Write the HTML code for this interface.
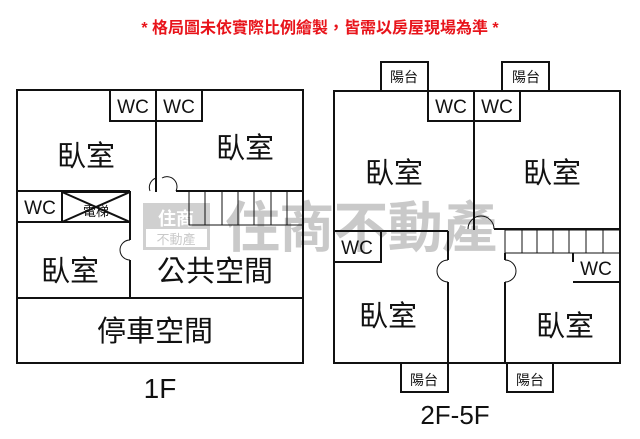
<!DOCTYPE html>
<html><head><meta charset="utf-8"><style>
body{margin:0;background:#fff;}
svg{display:block}
text{font-family:"Liberation Sans","Noto Sans CJK TC",sans-serif;}
</style></head><body>
<svg width="640" height="439" viewBox="0 0 640 439" xmlns="http://www.w3.org/2000/svg">
<rect width="640" height="439" fill="#fff"/>
<text x="320" y="33" font-size="16" fill="#e8141b" text-anchor="middle" font-weight="bold">* 格局圖未依實際比例繪製，皆需以房屋現場為準 *</text>

<g opacity="0.45">
<rect x="143" y="203" width="67" height="47" fill="#999"/>
<text x="176" y="225" font-size="18" fill="#fff" text-anchor="middle" font-weight="bold">住商</text>
<rect x="146" y="229" width="61" height="18" fill="#fff"/>
<text x="176" y="244" font-size="13" fill="#888" text-anchor="middle">不動產</text>
<text x="225" y="247" font-size="55" fill="#888" font-weight="bold" textLength="272">住商不動產</text>
</g>

<g stroke="#111" stroke-width="2" fill="none">
<rect x="17" y="90" width="286" height="273"/>
<rect x="110" y="90" width="46" height="31"/>
<rect x="156" y="90" width="46" height="31"/>
<line x1="156" y1="90" x2="156" y2="192"/>
<line x1="17" y1="191" x2="130" y2="191"/>
<line x1="176" y1="191" x2="303" y2="191"/>
<rect x="17" y="191" width="45" height="31"/>
<rect x="62" y="192" width="68" height="30"/>
<line x1="62" y1="192" x2="130" y2="222"/>
<line x1="62" y1="222" x2="130" y2="192"/>
<line x1="130" y1="191" x2="130" y2="240"/>
<line x1="130" y1="260" x2="130" y2="298"/>
<path d="M130 240 A10 10 0 0 0 130 260" stroke-width="1"/>
<path d="M150 191 A10 10 0 0 1 156 178 M162 178 A10 10 0 0 1 176 191" stroke-width="1"/>
<line x1="17" y1="298" x2="303" y2="298"/>
<g stroke-width="1"><rect x="189" y="191" width="114" height="34"/>
<line x1="205" y1="191" x2="205" y2="225"/><line x1="222" y1="191" x2="222" y2="225"/><line x1="238" y1="191" x2="238" y2="225"/><line x1="254" y1="191" x2="254" y2="225"/><line x1="271" y1="191" x2="271" y2="225"/><line x1="287" y1="191" x2="287" y2="225"/></g>

<rect x="334" y="91" width="286" height="272"/>
<rect x="381" y="62" width="47" height="29" fill="#fff"/>
<rect x="502" y="62" width="47" height="29" fill="#fff"/>
<rect x="428" y="91" width="46" height="30"/>
<rect x="474" y="91" width="46" height="30"/>
<line x1="474" y1="91" x2="474" y2="230"/>
<line x1="334" y1="231" x2="448" y2="231"/>
<line x1="494" y1="229" x2="620" y2="229"/>
<rect x="334" y="231" width="47" height="31"/>
<line x1="448" y1="231" x2="448" y2="260"/>
<line x1="448" y1="282" x2="448" y2="363"/>
<path d="M448 260 A11 11 0 0 0 448 282 M505 260 A11 11 0 0 1 505 282 M468 229 A11 11 0 0 1 494 229" stroke-width="1"/>
<line x1="505" y1="253" x2="505" y2="260"/>
<line x1="505" y1="282" x2="505" y2="363"/>
<g stroke-width="1"><rect x="505" y="230" width="115" height="23"/>
<line x1="522" y1="230" x2="522" y2="253"/><line x1="537" y1="230" x2="537" y2="253"/><line x1="553" y1="230" x2="553" y2="253"/><line x1="569" y1="230" x2="569" y2="253"/><line x1="586" y1="230" x2="586" y2="253"/><line x1="603" y1="230" x2="603" y2="253"/></g>
<line x1="573" y1="253" x2="573" y2="262"/>
<line x1="573" y1="282" x2="620" y2="282"/>
<rect x="401" y="363" width="47" height="29" fill="#fff"/>
<rect x="507" y="363" width="46" height="29" fill="#fff"/>
</g>

<g fill="#111" text-anchor="middle">
<g font-size="19"><text x="133" y="113">WC</text><text x="179" y="113">WC</text><text x="40" y="214">WC</text>
<text x="451" y="113">WC</text><text x="497" y="113">WC</text><text x="357" y="254">WC</text><text x="596" y="275">WC</text></g>
<text x="96" y="216" font-size="13">電梯</text>
<g font-size="29"><text x="86" y="166">臥室</text><text x="245" y="158">臥室</text><text x="70" y="281">臥室</text>
<text x="215" y="281">公共空間</text><text x="155" y="341">停車空間</text>
<text x="394" y="183">臥室</text><text x="552" y="183">臥室</text><text x="388" y="326">臥室</text><text x="565" y="336">臥室</text></g>
<g font-size="14"><text x="404" y="82">陽台</text><text x="526" y="82">陽台</text><text x="424" y="385">陽台</text><text x="530" y="385">陽台</text></g>
<text x="160" y="398" font-size="28">1F</text>
<text x="455" y="424" font-size="26">2F-5F</text>
</g>
</svg>
</body></html>
